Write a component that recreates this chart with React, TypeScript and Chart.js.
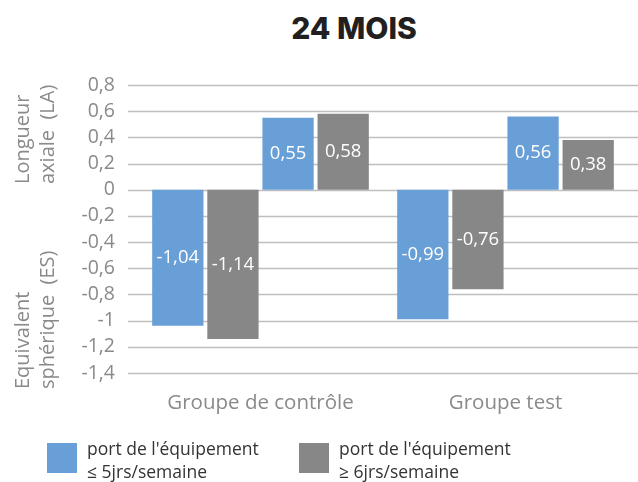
import React, { useEffect, useRef } from "react";
import { Chart, registerables } from "chart.js";

Chart.register(...registerables);

const categories = ["Groupe de contrôle", "Groupe test"];
const esLow = [-1.04, -0.99];
const esHigh = [-1.14, -0.76];
const laLow = [0.55, 0.56];
const laHigh = [0.58, 0.38];
const legendLabels = [
  ["port de l'équipement", "≤ 5jrs/semaine"],
  ["port de l'équipement", "≥ 6jrs/semaine"],
];
const titleText = "24 MOIS";
const axisTitleLA = ["Longueur", "axiale  (LA)"];
const axisTitleES = ["Equivalent", "sphérique  (ES)"];

const BLUE = "#689fd7";
const GRAY = "#878787";
const AXIS_GRAY = "#8a8a8a";
const FONT = "'Open Sans', 'Noto Sans', sans-serif";

const fmt = (v: number) => {
  const n = Number(Number(v).toFixed(2));
  return String(n).replace(".", ",");
};

const extraPlugin = {
  id: "extra",
  beforeDatasetsDraw(chart: any) {
    const { ctx, chartArea, scales } = chart;
    const y = scales.y;
    ctx.save();
    ctx.strokeStyle = "#bfbfbf";
    ctx.lineWidth = 1.6;
    y.ticks.forEach((t: any) => {
      const py = Math.round(y.getPixelForValue(t.value)) + 0.5;
      ctx.beginPath();
      ctx.moveTo(chartArea.left - 10, py);
      ctx.lineTo(chart.width, py);
      ctx.stroke();
    });
    ctx.restore();
  },
  afterDatasetsDraw(chart: any) {
    const { ctx } = chart;
    ctx.save();
    ctx.fillStyle = "#ffffff";
    ctx.font = `18.5px ${FONT}`;
    ctx.textAlign = "center";
    ctx.textBaseline = "middle";
    chart.data.datasets.forEach((ds: any, di: number) => {
      const meta = chart.getDatasetMeta(di);
      meta.data.forEach((bar: any, i: number) => {
        const v = ds.data[i];
        const cy = (bar.y + bar.base) / 2;
        ctx.fillText(fmt(v), bar.x, cy);
      });
    });
    ctx.restore();

    // rotated axis titles
    ctx.save();
    ctx.fillStyle = AXIS_GRAY;
    ctx.font = `20px ${FONT}`;
    ctx.textAlign = "left";
    ctx.textBaseline = "middle";
    const drawBlock = (lines: string[], bottomY: number) => {
      lines.forEach((line, li) => {
        ctx.save();
        ctx.translate(23 + li * 25, bottomY);
        ctx.rotate(-Math.PI / 2);
        ctx.fillText(line, 0, 0);
        ctx.restore();
      });
    };
    drawBlock(axisTitleLA, 184);
    drawBlock(axisTitleES, 389);
    ctx.restore();
  },
};

export default function App() {
  const ref = useRef<HTMLCanvasElement>(null);
  useEffect(() => {
    if (!ref.current) return;
    const chart = new Chart(ref.current, {
      type: "bar",
      data: {
        labels: categories,
        datasets: [
          { label: "ES ≤5", data: esLow, backgroundColor: BLUE },
          { label: "ES ≥6", data: esHigh, backgroundColor: GRAY },
          { label: "LA ≤5", data: laLow, backgroundColor: BLUE },
          { label: "LA ≥6", data: laHigh, backgroundColor: GRAY },
        ],
      },
      options: {
        animation: false,
        responsive: false,
        maintainAspectRatio: false,
        layout: { padding: { top: 85, right: 10, left: 0, bottom: 0 } },
        datasets: { bar: { categoryPercentage: 0.9, barPercentage: 0.93 } },
        plugins: {
          legend: { display: false },
          tooltip: { enabled: false },
          title: { display: false },
        },
        scales: {
          x: {
            grid: { display: false, drawTicks: false },
            border: { display: false },
            ticks: {
              color: AXIS_GRAY,
              font: { family: FONT, size: 20.5 },
              padding: 18,
              maxRotation: 0,
              autoSkip: false,
            },
            afterFit(scale: any) {
              scale.height = 109;
            },
          },
          y: {
            min: -1.4,
            max: 0.8,
            ticks: {
              stepSize: 0.2,
              autoSkip: false,
              color: AXIS_GRAY,
              font: { family: FONT, size: 19.5 },
              padding: 23,
              callback: (v: any) => fmt(Number(Number(v).toFixed(1))),
            },
            grid: { display: false, drawTicks: false },
            border: { display: false },
            afterFit(scale: any) {
              scale.width = 138;
            },
          },
        },
      },
      plugins: [extraPlugin],
    });
    return () => chart.destroy();
  }, []);

  return (
    <div style={{ position: "fixed", left: 0, top: 0, width: 638, height: 482, background: "#fff" }}>
      <div
        style={{
          position: "absolute",
          left: 204,
          width: 300,
          top: 13,
          textAlign: "center",
          fontFamily: "Inter, 'Noto Sans', sans-serif",
          fontWeight: 800,
          fontSize: 30,
          color: "#231f20",
          lineHeight: "30px",
        }}
      >
        {titleText}
      </div>
      <canvas ref={ref} width={638} height={482} style={{ position: "absolute", left: 0, top: 0 }} />
      {legendLabels.map((lines, i) => (
        <div
          key={i}
          style={{ position: "absolute", left: i === 0 ? 47 : 299, top: 437, display: "flex", alignItems: "flex-start" }}
        >
          <div style={{ width: 30, height: 30, background: i === 0 ? BLUE : GRAY, marginTop: 6, marginRight: 10 }} />
          <div style={{ fontFamily: FONT, fontSize: 17.5, lineHeight: "23px", color: "#333" }}>
            <div>{lines[0]}</div>
            <div>{lines[1]}</div>
          </div>
        </div>
      ))}
    </div>
  );
}
